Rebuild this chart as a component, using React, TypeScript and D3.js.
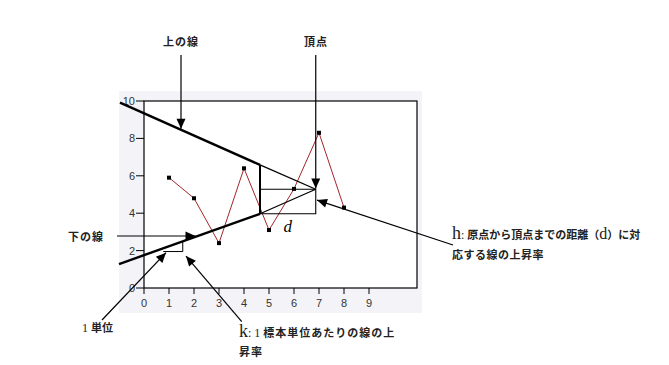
import * as d3 from "d3";

// sample index and observed value
const samples = [1, 2, 3, 4, 5, 6, 7, 8];
const values = [5.9, 4.8, 2.4, 6.4, 3.1, 5.3, 8.3, 4.3];

const xTicks = [0, 1, 2, 3, 4, 5, 6, 7, 8, 9];
const yTicks = [0, 2, 4, 6, 8, 10];

// trend lines (data units): thick part, then thin part up to the apex
const apex = [6.87, 5.28];
const upperThick = [[-0.96, 9.91], [4.64, 6.58]];
const lowerThick = [[-1.0, 1.28], [4.64, 3.97]];
const cutX = 4.64;
// one-unit step under the lower line
const stepX = [0.77, 1.55];
const stepY = 1.95;

// arrows: [fromX, fromY, toX, toY] in data units
const arrows = [
  [1.48, 12.46, 1.48, 8.52],
  [6.87, 12.46, 6.87, 5.32],
  [-1.08, 2.78, 2.06, 2.78],
  [-1.68, -1.71, 0.88, 1.89],
  [3.91, -1.8, 1.68, 1.71],
  [12.36, 2.3, 6.92, 4.7],
];

const W = 669;
const H = 365;

export default function App() {
  const x = d3.scaleLinear().domain([0, 10.92]).range([144, 417]);
  const y = d3.scaleLinear().domain([0, 10]).range([288, 101]);

  const line = d3
    .line<number>()
    .x((d, i) => x(samples[i]))
    .y((d) => y(d));
  const seg = d3
    .line<number[]>()
    .x((d) => x(d[0]))
    .y((d) => y(d[1]));

  const lowerAt = (v: number) =>
    lowerThick[0][1] +
    ((lowerThick[1][1] - lowerThick[0][1]) / (lowerThick[1][0] - lowerThick[0][0])) *
      (v - lowerThick[0][0]);

  const cjk = "'Noto Sans CJK JP', 'Noto Sans', sans-serif";
  const serif = "'Liberation Serif', 'DejaVu Serif', serif";
  const sans = "'Liberation Sans', Arial, sans-serif";

  const arrowHead = (a: number[]) => {
    const x1 = x(a[0]), y1 = y(a[1]), x2 = x(a[2]), y2 = y(a[3]);
    const ang = Math.atan2(y2 - y1, x2 - x1);
    const L = 10, Wd = 4.5;
    const bx = x2 - L * Math.cos(ang), by = y2 - L * Math.sin(ang);
    const px = -Math.sin(ang) * Wd, py = Math.cos(ang) * Wd;
    return `M${x2},${y2}L${bx + px},${by + py}L${bx - px},${by - py}Z`;
  };

  return (
    <svg
      width={W}
      height={H}
      style={{ position: "absolute", left: 0, top: 0, background: "#fff" }}
    >
      {/* panel */}
      <rect x={119} y={91} width={303} height={222} fill="#f4f3f7" />
      <rect x={x(0)} y={y(10)} width={x(10.92) - x(0)} height={y(0) - y(10)} fill="#fff" stroke="#000" strokeWidth={1.2} />

      {/* axes ticks */}
      {xTicks.map((t) => (
        <g key={"x" + t}>
          <line x1={x(t)} x2={x(t)} y1={y(0)} y2={y(0) + 6} stroke="#000" />
          <text x={x(t)} y={y(0) + 19} textAnchor="middle" fontFamily={sans} fontSize={11} fill="#333">
            {t}
          </text>
        </g>
      ))}
      {yTicks.map((t) => (
        <g key={"y" + t}>
          <line x1={x(0) - 8} x2={x(0)} y1={y(t)} y2={y(t)} stroke="#000" />
          <text x={x(0) - 9} y={y(t) + 4} textAnchor="end" fontFamily={sans} fontSize={11} fill="#333">
            {t}
          </text>
        </g>
      ))}

      {/* data series */}
      <path d={line(values) || ""} fill="none" stroke="#a3262a" strokeWidth={1} />
      {values.map((v, i) => (
        <rect key={i} x={x(samples[i]) - 2} y={y(v) - 2} width={4} height={4} fill="#000" />
      ))}

      {/* trend lines */}
      <path d={seg(upperThick) || ""} stroke="#000" strokeWidth={2.4} fill="none" />
      <path d={seg(lowerThick) || ""} stroke="#000" strokeWidth={2.4} fill="none" />
      <path d={seg([upperThick[1], apex]) || ""} stroke="#000" strokeWidth={1.3} fill="none" />
      <path d={seg([lowerThick[1], apex]) || ""} stroke="#000" strokeWidth={1.3} fill="none" />
      <line x1={x(cutX)} x2={x(cutX)} y1={y(upperThick[1][1])} y2={y(lowerThick[1][1])} stroke="#000" strokeWidth={2} />
      {/* distance box */}
      <path
        d={seg([[cutX, apex[1]], apex, [apex[0], lowerThick[1][1]], [cutX, lowerThick[1][1]]]) || ""}
        stroke="#000"
        strokeWidth={1.1}
        fill="none"
      />
      {/* one unit step */}
      <path
        d={seg([[stepX[0], stepY], [stepX[1], stepY], [stepX[1], lowerAt(stepX[1])]]) || ""}
        stroke="#000"
        strokeWidth={1}
        fill="none"
      />

      <text x={x(5.75)} y={y(3.0)} fontFamily={serif} fontStyle="italic" fontSize={17} textAnchor="middle">
        d
      </text>

      {/* arrows */}
      {arrows.map((a, i) => (
        <g key={"a" + i}>
          <line x1={x(a[0])} y1={y(a[1])} x2={x(a[2])} y2={y(a[3])} stroke="#000" strokeWidth={1.2} />
          <path d={arrowHead(a)} fill="#000" />
        </g>
      ))}

      {/* labels */}
      <g fontFamily={cjk} fontSize={11} fontWeight={700} fill="#222">
        <text x={181} y={46} textAnchor="middle" letterSpacing={1}>上の線</text>
        <text x={316} y={46} textAnchor="middle" letterSpacing={1}>頂点</text>
        <text x={68} y={241} letterSpacing={1}>下の線</text>
        <text x={82} y={332}>
          <tspan fontFamily={serif} fontWeight={400} fontSize={12}>1 </tspan>
          <tspan>単位</tspan>
        </text>
        <text x={239} y={337}>
          <tspan fontFamily={serif} fontWeight={400} fontSize={18}>k</tspan>
          <tspan fontFamily={serif} fontWeight={400} fontSize={12}>: 1 </tspan>
          <tspan letterSpacing={1}>標本単位あたりの線の上</tspan>
        </text>
        <text x={239} y={356} letterSpacing={1}>昇率</text>
        <text x={452} y={239}>
          <tspan fontFamily={serif} fontWeight={400} fontSize={18}>h</tspan>
          <tspan fontFamily={serif} fontWeight={400} fontSize={12}>: </tspan>
          <tspan>原点から頂点までの距離</tspan>
          <tspan>（</tspan>
          <tspan fontFamily={serif} fontWeight={400} fontSize={16}>d</tspan>
          <tspan>）</tspan>
          <tspan>に対</tspan>
        </text>
        <text x={452} y={259} letterSpacing={0.5}>応する線の上昇率</text>
      </g>
    </svg>
  );
}
